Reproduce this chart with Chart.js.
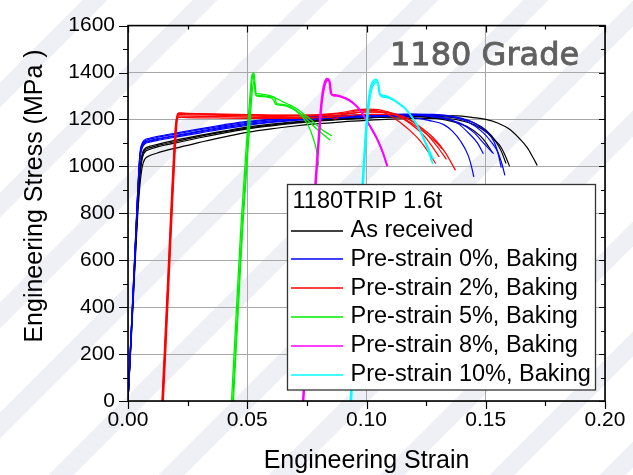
<!DOCTYPE html>
<html>
<head>
<meta charset="utf-8">
<script src="https://cdn.jsdelivr.net/npm/chart.js@4.4.1/dist/chart.umd.min.js"></script>
<style>
html,body{margin:0;padding:0;}
body{width:633px;height:475px;overflow:hidden;
background:#fff repeating-linear-gradient(135deg,#ffffff 0px,#ffffff 58px,#eef0f5 58px,#eef0f5 76px,#ffffff 76px,#ffffff 78px);}
canvas{display:block;}
</style>
</head>
<body>
<canvas id="c" width="633" height="475" style="width:633px;height:475px"></canvas>
<script>
// ---- axis ticks ----
const xTickValues = [0, 0.05, 0.10, 0.15, 0.20];
const yTickValues = [0, 200, 400, 600, 800, 1000, 1200, 1400, 1600];

// ---- legend ----
const legendTitle = '1180TRIP 1.6t';
const legendLabels = ['As received', 'Pre-strain 0%, Baking', 'Pre-strain 2%, Baking', 'Pre-strain 5%, Baking', 'Pre-strain 8%, Baking', 'Pre-strain 10%, Baking'];
const lineColors = ['#000000', '#0000ff', '#ff0000', '#00ee00', '#ff00ff', '#00ffff'];

// ---- curves: [strain, stress (MPa)] ----
const asReceived1 = [[0,0],[0.001,200],[0.002,400],[0.003,610],[0.004,810],[0.005,960],[0.006,1035],[0.007,1060],[0.009,1072],[0.012,1082],[0.02,1100],[0.03,1122],[0.04,1142],[0.05,1160],[0.06,1173],[0.07,1184],[0.08,1193],[0.09,1200],[0.10,1206],[0.11,1211],[0.12,1214],[0.13,1216],[0.14,1214],[0.145,1208],[0.15,1200],[0.155,1185],[0.160,1158],[0.164,1120],[0.1674,1080],[0.1697,1040],[0.1716,1004]];
const asReceived2 = [[0,0],[0.001,190],[0.002,390],[0.003,590],[0.004,780],[0.005,920],[0.006,1000],[0.007,1030],[0.009,1045],[0.012,1056],[0.02,1078],[0.03,1102],[0.04,1125],[0.05,1145],[0.06,1160],[0.07,1172],[0.08,1182],[0.09,1190],[0.10,1196],[0.11,1201],[0.12,1204],[0.13,1205],[0.135,1203],[0.14,1194],[0.145,1178],[0.1506,1143],[0.154,1110],[0.156,1088],[0.158,1050],[0.160,1000]];
const asReceived3 = [[0,0],[0.001,210],[0.002,420],[0.003,630],[0.004,840],[0.005,990],[0.006,1055],[0.007,1075],[0.009,1085],[0.012,1093],[0.02,1112],[0.03,1132],[0.04,1150],[0.05,1167],[0.06,1180],[0.07,1190],[0.08,1198],[0.09,1204],[0.10,1208],[0.11,1211],[0.12,1212],[0.125,1210],[0.132,1200],[0.137,1188],[0.142,1171],[0.1478,1129],[0.1505,1095],[0.1527,1060]];
const asReceived4 = [[0,0],[0.001,200],[0.002,405],[0.003,615],[0.004,820],[0.005,970],[0.006,1045],[0.007,1068],[0.009,1079],[0.012,1088],[0.02,1106],[0.03,1128],[0.04,1147],[0.05,1163],[0.06,1176],[0.07,1187],[0.08,1195],[0.09,1202],[0.10,1207],[0.11,1211],[0.12,1213],[0.13,1212],[0.138,1205],[0.145,1186],[0.150,1155],[0.154,1110],[0.1565,1065],[0.1585,1012]];

const pre0_1 = [[0,0],[0.001,215],[0.002,425],[0.003,640],[0.004,860],[0.005,1030],[0.006,1080],[0.007,1095],[0.009,1103],[0.012,1110],[0.02,1125],[0.03,1142],[0.04,1160],[0.05,1175],[0.06,1187],[0.07,1196],[0.08,1202],[0.09,1207],[0.10,1211],[0.11,1213],[0.12,1208],[0.126,1196],[0.1324,1178],[0.136,1150],[0.1394,1108],[0.1425,1050],[0.144,1000],[0.145,955]];
const pre0_2 = [[0,0],[0.001,225],[0.002,440],[0.003,660],[0.004,880],[0.005,1055],[0.006,1100],[0.007,1113],[0.009,1120],[0.012,1127],[0.02,1142],[0.03,1160],[0.04,1177],[0.05,1192],[0.06,1201],[0.07,1208],[0.08,1213],[0.09,1217],[0.10,1220],[0.11,1222],[0.12,1222],[0.128,1215],[0.135,1200],[0.139,1178],[0.142,1150],[0.1465,1100],[0.149,1054]];
const pre0_3 = [[0,0],[0.001,220],[0.002,432],[0.003,650],[0.004,870],[0.005,1042],[0.006,1090],[0.007,1103],[0.009,1110],[0.012,1117],[0.02,1132],[0.03,1150],[0.04,1168],[0.05,1183],[0.06,1194],[0.07,1202],[0.08,1208],[0.09,1212],[0.10,1216],[0.11,1219],[0.12,1221],[0.128,1220],[0.135,1212],[0.142,1192],[0.149,1143],[0.152,1108],[0.1548,1067],[0.1568,1010],[0.158,962]];
const pre0_4 = [[0,0],[0.001,222],[0.002,436],[0.003,655],[0.004,875],[0.005,1048],[0.006,1095],[0.007,1108],[0.009,1116],[0.012,1123],[0.02,1138],[0.03,1156],[0.04,1173],[0.05,1188],[0.06,1198],[0.07,1205],[0.08,1211],[0.09,1215],[0.10,1218],[0.11,1221],[0.12,1223],[0.128,1222],[0.135,1215],[0.143,1195],[0.150,1150],[0.1535,1105],[0.1553,1050],[0.1565,995]];
const pre0_5 = [[0,0],[0.001,218],[0.002,428],[0.003,645],[0.004,865],[0.005,1036],[0.006,1085],[0.007,1099],[0.009,1107],[0.012,1114],[0.02,1129],[0.03,1147],[0.04,1164],[0.05,1179],[0.06,1190],[0.07,1199],[0.08,1205],[0.09,1210],[0.10,1214],[0.11,1217],[0.12,1217],[0.127,1212],[0.134,1200],[0.140,1180],[0.145,1145],[0.149,1100],[0.1533,1054]];

const pre2_1 = [[0.0145,0],[0.0155,210],[0.0165,430],[0.0175,650],[0.0185,870],[0.0195,1075],[0.0202,1185],[0.0208,1224],[0.0215,1226],[0.025,1224],[0.03,1223],[0.04,1221],[0.05,1219],[0.06,1217],[0.07,1217],[0.08,1219],[0.09,1226],[0.095,1235],[0.10,1240],[0.105,1236],[0.11,1216],[0.114,1188],[0.1185,1150],[0.1226,1108],[0.126,1060],[0.129,1012]];
const pre2_2 = [[0.0148,0],[0.0158,205],[0.0168,425],[0.0178,645],[0.0188,865],[0.0198,1070],[0.0205,1180],[0.0211,1220],[0.0218,1222],[0.025,1220],[0.03,1219],[0.04,1217],[0.05,1215],[0.06,1213],[0.07,1214],[0.08,1216],[0.09,1220],[0.10,1232],[0.108,1232],[0.114,1212],[0.120,1176],[0.1254,1136],[0.129,1105],[0.1317,1075]];
const pre2_3 = [[0.0142,0],[0.0152,205],[0.0162,425],[0.0172,645],[0.0182,865],[0.0192,1070],[0.0199,1175],[0.0205,1212],[0.0212,1215],[0.025,1214],[0.03,1213],[0.04,1212],[0.05,1210],[0.06,1208],[0.07,1208],[0.08,1209],[0.085,1210],[0.0865,1202],[0.0875,1204],[0.089,1218],[0.095,1228],[0.10,1232],[0.106,1230],[0.112,1224],[0.118,1200],[0.123,1165],[0.128,1122],[0.133,1060],[0.1373,983]];
const pre2_4 = [[0.0146,0],[0.0156,210],[0.0166,430],[0.0176,650],[0.0186,870],[0.0196,1075],[0.0203,1185],[0.0209,1226],[0.0216,1228],[0.025,1226],[0.03,1225],[0.04,1223],[0.05,1221],[0.06,1219],[0.07,1219],[0.08,1221],[0.09,1230],[0.095,1240],[0.10,1244],[0.106,1240],[0.112,1220],[0.118,1185],[0.124,1132],[0.1275,1085],[0.1305,1040]];
const pre2_5 = [[0.0144,0],[0.0154,205],[0.0164,425],[0.0174,645],[0.0184,865],[0.0194,1065],[0.0201,1170],[0.0206,1206],[0.0213,1209],[0.025,1208],[0.03,1207],[0.04,1206],[0.05,1205],[0.06,1204],[0.07,1205],[0.08,1208],[0.09,1214],[0.10,1222],[0.11,1222],[0.117,1205],[0.124,1150],[0.130,1080],[0.1335,1030]];

const pre5_1 = [[0.0439,0],[0.0450,210],[0.0460,400],[0.0470,590],[0.0480,770],[0.0490,920],[0.0500,1075],[0.0508,1195],[0.0514,1285],[0.0519,1355],[0.0524,1400],[0.0529,1392],[0.0533,1350],[0.0537,1312],[0.0545,1310],[0.056,1308],[0.058,1305],[0.0605,1298],[0.0615,1292],[0.0622,1270],[0.063,1266],[0.066,1262],[0.068,1255],[0.070,1242],[0.0725,1222],[0.075,1200],[0.078,1170],[0.0805,1148],[0.0825,1130],[0.0848,1112]];
const pre5_2 = [[0.0434,0],[0.0445,210],[0.0455,400],[0.0465,590],[0.0475,770],[0.0485,920],[0.0495,1075],[0.0503,1190],[0.0510,1285],[0.0515,1350],[0.0520,1392],[0.0525,1390],[0.0530,1345],[0.0535,1305],[0.0545,1302],[0.056,1301],[0.060,1296],[0.0623,1289],[0.065,1275],[0.068,1261],[0.0715,1240],[0.075,1212],[0.078,1188],[0.0805,1164],[0.083,1145],[0.0855,1130]];
const pre5_3 = [[0.0442,0],[0.0453,210],[0.0463,400],[0.0473,590],[0.0483,770],[0.0493,920],[0.0503,1070],[0.0511,1180],[0.0517,1270],[0.0522,1330],[0.0527,1360],[0.0532,1345],[0.0536,1305],[0.0545,1298],[0.058,1296],[0.0603,1290],[0.0612,1280],[0.0618,1265],[0.065,1260],[0.068,1250],[0.0705,1235],[0.073,1212],[0.0755,1175],[0.0775,1125],[0.079,1070],[0.0799,1004]];

const pre8_1 = [[0.0733,0],[0.0750,300],[0.0765,570],[0.0778,820],[0.0790,1000],[0.0800,1140],[0.0808,1250],[0.0816,1320],[0.0825,1360],[0.0834,1374],[0.0842,1370],[0.0846,1345],[0.0850,1312],[0.0858,1306],[0.0875,1304],[0.089,1300],[0.0915,1290],[0.0939,1275],[0.0965,1250],[0.0995,1205],[0.102,1162],[0.1045,1115],[0.1068,1060],[0.1086,1004]];
const pre8_2 = [[0.0736,0],[0.0753,300],[0.0768,570],[0.0781,820],[0.0793,1000],[0.0803,1140],[0.0811,1250],[0.0819,1315],[0.0828,1355],[0.0837,1368],[0.0845,1364],[0.0849,1340],[0.0853,1308],[0.0861,1302],[0.0878,1300],[0.0893,1296],[0.0918,1286],[0.0942,1271],[0.0968,1246],[0.0998,1200],[0.1023,1157],[0.1048,1110],[0.107,1055],[0.1088,1000]];

const pre10_1 = [[0.0932,0],[0.0948,300],[0.0962,560],[0.0975,800],[0.0986,1000],[0.0996,1150],[0.1004,1250],[0.1012,1315],[0.1021,1352],[0.1031,1368],[0.1041,1372],[0.1047,1360],[0.1051,1325],[0.1056,1308],[0.1075,1302],[0.1107,1289],[0.1135,1270],[0.1163,1247],[0.119,1210],[0.1218,1164],[0.124,1115],[0.126,1062],[0.1275,1018]];
const pre10_2 = [[0.0937,0],[0.0953,300],[0.0967,560],[0.0980,800],[0.0991,1000],[0.1001,1150],[0.1009,1245],[0.1017,1305],[0.1026,1340],[0.1036,1355],[0.1046,1358],[0.1052,1345],[0.1056,1312],[0.1061,1298],[0.108,1294],[0.1112,1282],[0.114,1263],[0.1168,1240],[0.1195,1204],[0.1222,1160],[0.1245,1110],[0.1265,1065],[0.128,1030]];
const pre10_3 = [[0.0934,0],[0.0950,300],[0.0964,560],[0.0977,800],[0.0988,1000],[0.0998,1150],[0.1006,1248],[0.1014,1310],[0.1023,1346],[0.1033,1362],[0.1043,1365],[0.1049,1352],[0.1053,1318],[0.1058,1303],[0.1078,1298],[0.111,1285],[0.1138,1266],[0.1165,1243],[0.1192,1207],[0.122,1162],[0.1242,1112],[0.1262,1060],[0.1278,1010]];

const groupCurves = [
  [asReceived1, asReceived2, asReceived3, asReceived4],
  [pre0_1, pre0_2, pre0_3, pre0_4, pre0_5],
  [pre2_1, pre2_2, pre2_3, pre2_4, pre2_5],
  [pre5_1, pre5_2, pre5_3],
  [pre8_1, pre8_2],
  [pre10_1, pre10_2, pre10_3]
];
const groupWidths = [1.2, 1.2, 1.2, 1.3, 1.8, 1.4];

const FONT = "'Liberation Sans', Arial, sans-serif";

const datasets = [];
groupCurves.forEach((curves, g) => {
  curves.forEach((c, i) => {
    datasets.push({
      label: legendLabels[g] + ' #' + (i + 1),
      data: c.map(p => ({x: p[0], y: p[1]})),
      showLine: true,
      borderColor: lineColors[g],
      backgroundColor: lineColors[g],
      borderWidth: groupWidths[g],
      pointRadius: 0,
      pointHoverRadius: 0,
      fill: false,
      cubicInterpolationMode: 'monotone',
      order: 10 - g
    });
  });
});

const gradeTextPlugin = {
  id: 'gradeText',
  beforeDatasetsDraw(chart) {
    const ctx = chart.ctx;
    ctx.save();
    ctx.font = "32px 'DejaVu Sans', Verdana, sans-serif";
    ctx.fillStyle = '#606060';
    ctx.strokeStyle = '#606060';
    ctx.lineWidth = 0.9;
    ctx.textAlign = 'left';
    ctx.textBaseline = 'alphabetic';
    ctx.fillText('1180 Grade', 390, 65);
    ctx.strokeText('1180 Grade', 390, 65);
    ctx.restore();
  }
};

const framePlugin = {
  id: 'frame',
  afterDraw(chart) {
    const {ctx, chartArea: a, scales: {x, y}} = chart;
    ctx.save();
    ctx.strokeStyle = '#000';
    ctx.lineWidth = 1.2;
    ctx.beginPath();
    for (let k = 0; k <= 8; k++) {
      const v = k * 0.025;
      const px = Math.round(x.getPixelForValue(v)) + 0.5;
      const major = k % 2 === 0;
      const lo = major ? 8 : 5, li = major ? 7 : 4;
      ctx.moveTo(px, a.bottom); ctx.lineTo(px, a.bottom + lo);
      ctx.moveTo(px, a.top); ctx.lineTo(px, a.top + li);
    }
    for (let k = 0; k <= 16; k++) {
      const v = k * 100;
      const py = Math.round(y.getPixelForValue(v)) + 0.5;
      const major = k % 2 === 0;
      const lo = major ? 9 : 5, li = major ? 6 : 4;
      ctx.moveTo(a.left, py); ctx.lineTo(a.left - lo, py);
      ctx.moveTo(a.right, py); ctx.lineTo(a.right - li, py);
    }
    ctx.stroke();
    ctx.lineWidth = 1.6;
    ctx.strokeRect(a.left, a.top, a.right - a.left, a.bottom - a.top);

    // axis titles
    ctx.fillStyle = '#000';
    ctx.font = '25px ' + FONT;
    ctx.textAlign = 'center';
    ctx.textBaseline = 'middle';
    ctx.fillText('Engineering Strain', (a.left + a.right) / 2, 461);
    ctx.translate(35, 196);
    ctx.rotate(-Math.PI / 2);
    ctx.fillText('Engineering Stress (MPa )', 0, 0);
    ctx.restore();
  }
};

const legendPlugin = {
  id: 'boxLegend',
  afterDraw(chart) {
    const ctx = chart.ctx;
    const bx = 287.5, by = 184.5, bw = 308, bh = 205.5;
    ctx.save();
    ctx.fillStyle = '#ffffff';
    ctx.fillRect(bx, by, bw, bh);
    ctx.strokeStyle = '#333';
    ctx.lineWidth = 1.3;
    ctx.strokeRect(bx, by, bw, bh);
    ctx.font = '23.5px ' + FONT;
    ctx.textAlign = 'left';
    ctx.textBaseline = 'middle';
    ctx.fillStyle = '#000';
    ctx.fillText(legendTitle, 292.5, 202);
    for (let i = 0; i < legendLabels.length; i++) {
      const yy = 230.5 + i * 28.8;
      ctx.beginPath();
      ctx.strokeStyle = lineColors[i];
      ctx.lineWidth = 1.6;
      ctx.moveTo(291, Math.round(yy));
      ctx.lineTo(343, Math.round(yy));
      ctx.stroke();
      ctx.fillStyle = '#000';
      ctx.fillText(legendLabels[i], 350.5, yy);
    }
    ctx.restore();
  }
};

new Chart(document.getElementById('c').getContext('2d'), {
  type: 'scatter',
  data: {datasets},
  options: {
    responsive: false,
    animation: false,
    events: [],
    layout: {padding: {left: 0, right: 28, top: 17, bottom: 0}},
    plugins: {legend: {display: false}, tooltip: {enabled: false}, title: {display: false}},
    scales: {
      x: {
        type: 'linear', min: 0, max: 0.2,
        afterFit(s) { s.height = 74; },
        afterBuildTicks(s) { s.ticks = xTickValues.map(v => ({value: v})); },
        ticks: {callback: v => Number(v).toFixed(2), font: {family: FONT, size: 21}, color: '#000', padding: 7, maxRotation: 0, autoSkip: false},
        grid: {color: '#a8a8a8', lineWidth: 1, drawTicks: false},
        border: {display: false}
      },
      y: {
        type: 'linear', min: 0, max: 1600,
        afterFit(s) { s.width = 128; },
        afterBuildTicks(s) { s.ticks = yTickValues.map(v => ({value: v})); },
        ticks: {callback: v => String(v), font: {family: FONT, size: 21}, color: '#000', padding: 13, autoSkip: false},
        grid: {color: '#a8a8a8', lineWidth: 1, drawTicks: false},
        border: {display: false}
      }
    }
  },
  plugins: [gradeTextPlugin, framePlugin, legendPlugin]
});
</script>
</body>
</html>
